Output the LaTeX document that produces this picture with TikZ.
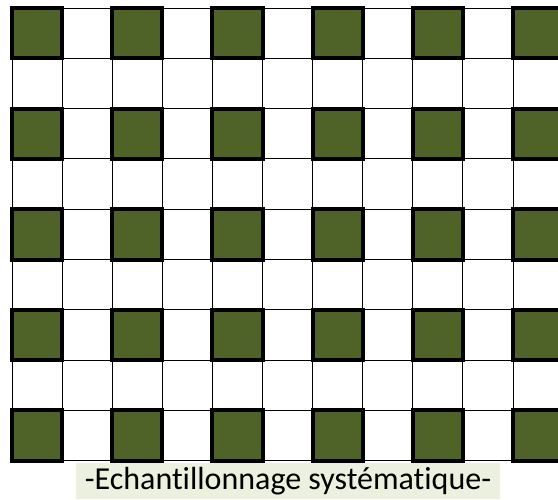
\documentclass[tikz,border=0pt]{standalone}
\usepackage{fontspec}
\setmainfont{Carlito}[Ligatures=NoCommon]
\usepackage{xcolor}
\definecolor{darkolive}{HTML}{4F6228}
\definecolor{paleolive}{HTML}{EBF1DE}

\begin{document}
\begin{tikzpicture}[x=1pt, y=-1pt,
    gridline/.style={line width=0.9pt, black},
    sampled/.style={fill=darkolive, draw=black, line width=4pt},
    caption/.style={fill=paleolive, minimum width=424, minimum height=36,
        inner sep=0pt, font=\fontsize{32}{34}\selectfont}]
    \useasboundingbox (0,0) rectangle (558,499);
    \clip (0,0) rectangle (558,499);

    % --- Thin grid (11 columns, 9 rows) ---
    \foreach \cx in {0,...,11}{
        \draw[gridline] (12+50.1*\cx,8) -- (12+50.1*\cx,460.7);
    }
    \foreach \ry in {0,...,9}{
        \draw[gridline] (12,8+50.3*\ry) -- (570,8+50.3*\ry);
    }

    % --- Sampled cells: every second column and row ---
    \foreach \cx in {0,2,...,10}{
        \foreach \ry in {0,2,...,8}{
            \filldraw[sampled] (12+50.1*\cx,8+50.3*\ry) rectangle ++(50.1,50.3);
        }
    }

    % --- Caption ---
    \node[caption] (title) at (288,481) {-Echantillonnage systématique-};
\end{tikzpicture}
\end{document}
